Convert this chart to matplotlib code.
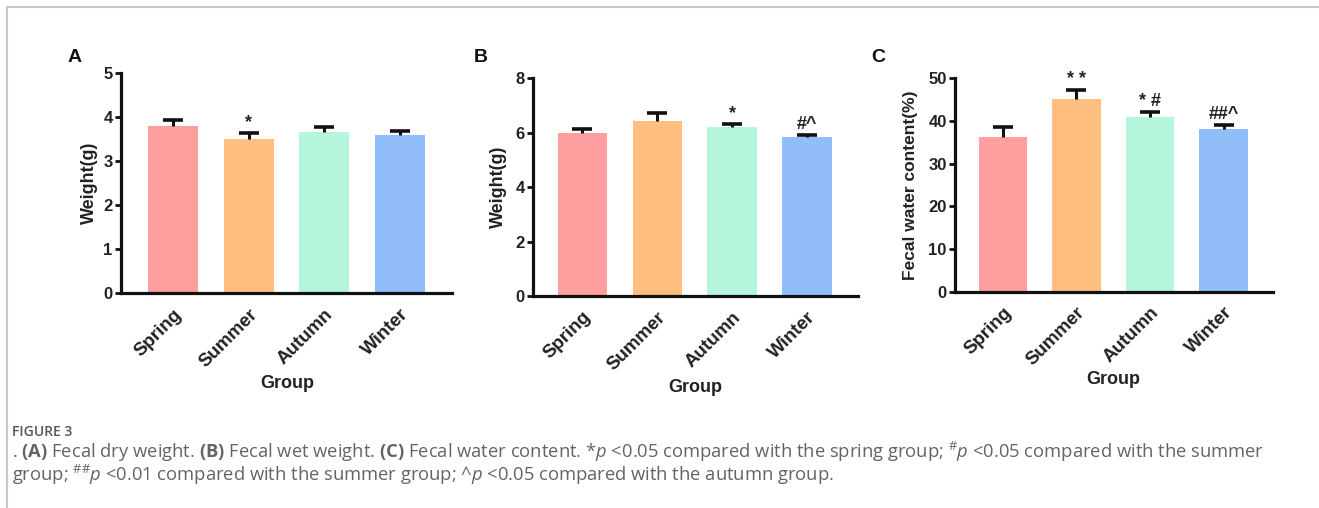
import matplotlib
matplotlib.use("Agg")
import matplotlib.pyplot as plt
from matplotlib.lines import Line2D

plt.rcParams['font.family'] = ['Liberation Sans', 'DejaVu Sans']
plt.rcParams['mathtext.fontset'] = 'custom'
plt.rcParams['mathtext.rm'] = 'Open Sans'
plt.rcParams['mathtext.it'] = 'Open Sans:italic'
plt.rcParams['mathtext.bf'] = 'Open Sans:bold'

groups = ["Spring", "Summer", "Autumn", "Winter"]
colors = ["#FE9F9F", "#FFBF80", "#B4F5DC", "#91BEF8"]

dry_mean = [3.80, 3.51, 3.66, 3.60]
dry_err = [0.13, 0.13, 0.11, 0.10]
dry_marks = ["", "*", "", ""]

wet_mean = [5.99, 6.43, 6.21, 5.83]
wet_err = [0.14, 0.28, 0.10, 0.08]
wet_marks = ["", "", "*", "#^"]

water_mean = [36.3, 45.1, 40.9, 38.1]
water_err = [2.2, 2.1, 1.3, 0.9]
water_marks = ["", "* *", "* #", "##^"]

W, H = 1319, 508
fig = plt.figure(figsize=(W / 100, H / 100), dpi=100)

def px_axes(left, top, right, bottom):
    return fig.add_axes([left / W, 1 - bottom / H, (right - left) / W, (bottom - top) / H])

panels = [
    dict(rect=(121, 73.3, 452, 293.3), mean=dry_mean, err=dry_err, marks=dry_marks,
         ymax=5, yticks=[0, 1, 2, 3, 4, 5], ylabel="Weight(g)", letter="A",
         letter_xy=(75, 57), ylabel_x=89, group_xy=(287, 383), xlim=(-0.69, 3.69), ylsize=13),
    dict(rect=(533, 78.3, 858, 296), mean=wet_mean, err=wet_err, marks=wet_marks,
         ymax=8, yticks=[0, 2, 4, 6, 8], ylabel="Weight(g)", letter="B",
         letter_xy=(481, 57), ylabel_x=498, group_xy=(695, 387), xlim=(-0.66, 3.68), ylsize=13),
    dict(rect=(955, 78.3, 1273, 291.7), mean=water_mean, err=water_err, marks=water_marks,
         ymax=50, yticks=[0, 10, 20, 30, 40, 50], ylabel="Fecal water content(%)", letter="C",
         letter_xy=(878, 57), ylabel_x=911, group_xy=(1113, 380), xlim=(-0.65, 3.67), ylsize=12.5),
]

for p in panels:
    ax = px_axes(*p["rect"])
    x = list(range(len(groups)))
    tops = [m + e for m, e in zip(p["mean"], p["err"])]
    ax.bar(x, p["mean"], width=0.66, color=colors, edgecolor='none', zorder=2)
    ax.errorbar(x, p["mean"], yerr=[[0] * 4, p["err"]], fmt='none', ecolor='#111111',
                elinewidth=2.2, capsize=0, zorder=3)
    ax.scatter(x, tops, marker='_', s=15 ** 2, linewidths=2.6, color='#111111', zorder=4)
    for xi, t, lab in zip(x, tops, p["marks"]):
        if lab:
            ax.annotate(lab, (xi, t), xytext=(0, 1.5), textcoords='offset points',
                        ha='center', va='bottom', fontsize=13, fontweight='bold', color='#222222')
    ax.set_xlim(*p["xlim"])
    ax.set_ylim(0, p["ymax"])
    ax.set_yticks(p["yticks"])
    ax.set_xticks(x)
    ax.set_xticklabels(groups, rotation=45, ha='right', rotation_mode='anchor',
                       fontsize=13.5, fontweight='bold', color='#222222')
    for lab in ax.get_yticklabels():
        lab.set_fontweight('bold')
        lab.set_fontsize(12)
        lab.set_color('#222222')
    for s in ['top', 'right']:
        ax.spines[s].set_visible(False)
    for s in ['left', 'bottom']:
        ax.spines[s].set_linewidth(2.3)
        ax.spines[s].set_color('#111111')
    ax.tick_params(axis='both', direction='out', width=2, length=4, color='#111111')
    ax.tick_params(axis='x', length=0, pad=9)
    ax.tick_params(axis='y', pad=2)
    fig.text(p["letter_xy"][0] / W, 1 - p["letter_xy"][1] / H, p["letter"], ha='center', va='center',
             fontsize=14, fontweight='bold', color='#111111')
    cy = (p["rect"][1] + p["rect"][3]) / 2
    fig.text(p["ylabel_x"] / W, 1 - cy / H, p["ylabel"], ha='center', va='center', rotation=90,
             fontsize=p["ylsize"], fontweight='bold', color='#222222')
    fig.text(p["group_xy"][0] / W, 1 - p["group_xy"][1] / H, "Group", ha='center', va='center',
             fontsize=13, fontweight='bold', color='#222222')

# frame lines
fig.add_artist(Line2D([7 / W, 1], [1 - 7 / H, 1 - 7 / H], color='#c8c8c8', lw=1.5))
fig.add_artist(Line2D([7 / W, 7 / W], [1 - 7 / H, 0], color='#c8c8c8', lw=1.5))

fig.text(12 / W, 1 - 432 / H, "FIGURE 3", ha='left', va='center', fontsize=10,
         family='Open Sans', fontweight='semibold', color='#555555')
line1 = (r". $\mathbf{(A)}$ Fecal dry weight. $\mathbf{(B)}$ Fecal wet weight. "
         r"$\mathbf{(C)}$ Fecal water content. *$p$ <0.05 compared with the spring group; "
         r"$^{\#}p$ <0.05 compared with the summer")
line2 = (r"group; $^{\#\#}p$ <0.01 compared with the summer group; ^$p$ <0.05 "
         r"compared with the autumn group.")
fig.text(12 / W, 1 - 452 / H, line1, ha='left', va='center', fontsize=13.2,
         family='Open Sans', color='#646464')
fig.text(12 / W, 1 - 475 / H, line2, ha='left', va='center', fontsize=13.2,
         family='Open Sans', color='#646464')

fig.savefig("out.png", dpi=100)
